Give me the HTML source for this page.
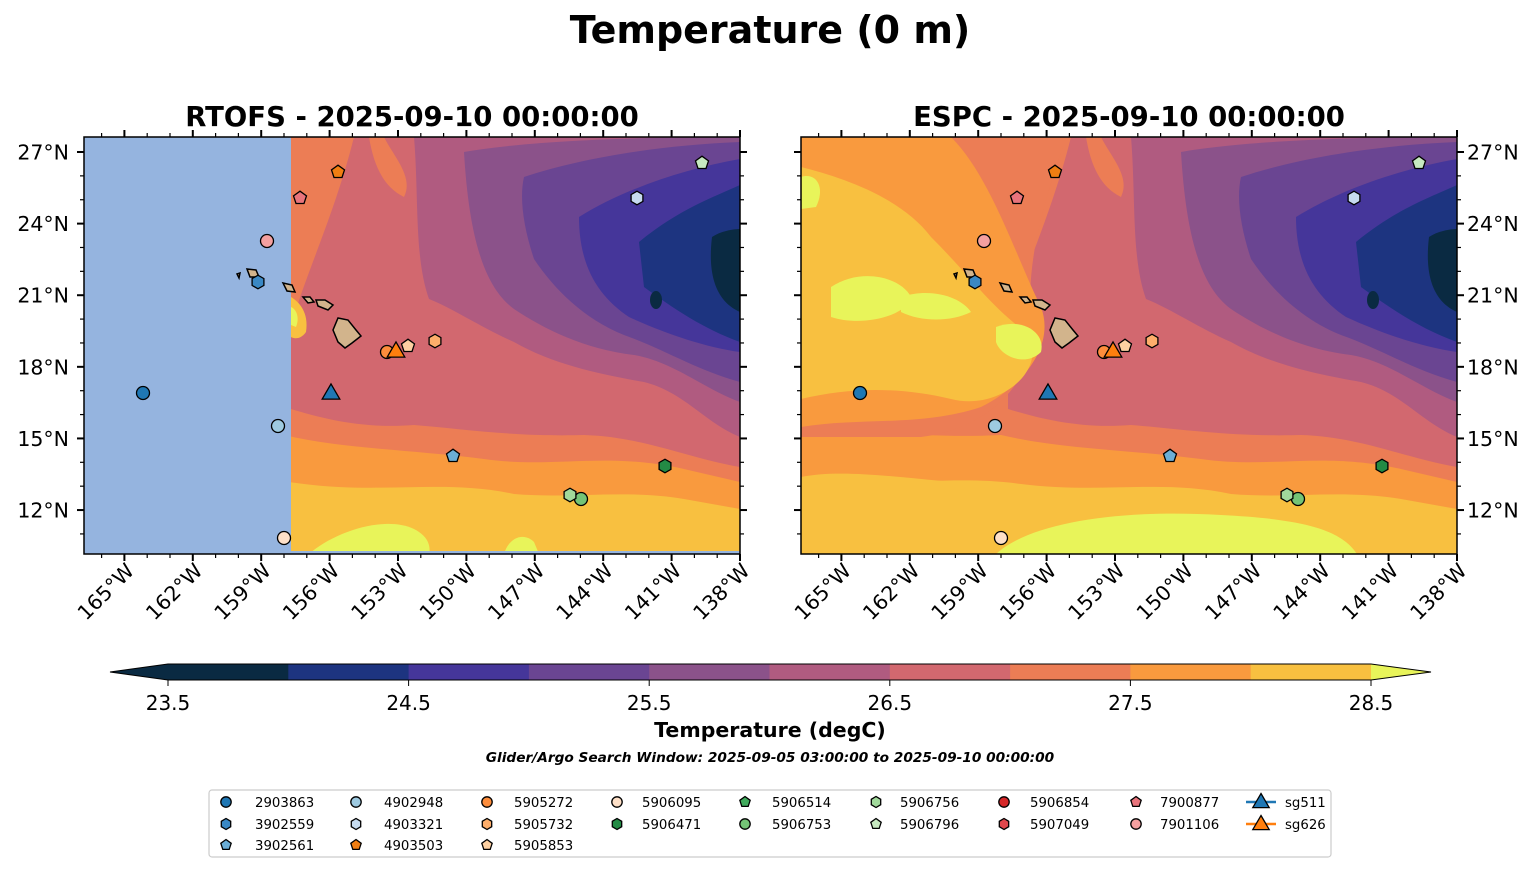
<!DOCTYPE html>
<html><head><meta charset="utf-8"><style>
body{margin:0;background:#fff}
svg text{font-family:"DejaVu Sans","Liberation Sans",sans-serif}
</style></head><body>
<svg id="s" width="1540" height="889" xmlns="http://www.w3.org/2000/svg">
<defs>
<clipPath id="cp"><rect x="0" y="0" width="656" height="417"/></clipPath>
<g id="common">
<path fill="#d2686f" d="M270,0 L656,0 L656,330 C600,320 560,300 500,298 C430,300 380,292 330,288 C280,292 240,282 207,272 L207,190 C220,140 250,80 270,0 Z"/>
<path fill="#ec7d55" d="M300,0 C310,20 330,40 320,60 C300,50 290,30 285,0 Z"/>
<path fill="#b05b80" d="M330,0 L656,0 L656,300 C620,285 600,255 560,245 C520,238 470,228 430,205 C400,192 370,172 345,162 C330,120 335,60 330,0 Z"/>
<path fill="#8b528a" d="M380,15 C420,8 500,0 656,0 L656,265 C620,252 590,225 550,218 C500,212 460,192 430,172 C400,150 385,100 380,15 Z"/>
<path fill="#6a4592" d="M440,40 C500,20 580,8 656,5 L656,245 C610,232 580,212 540,198 C500,182 470,152 450,122 C440,92 435,62 440,40 Z"/>
<path fill="#45369a" d="M495,80 C540,52 600,32 656,22 L656,215 C620,210 580,196 545,180 C515,160 495,130 495,80 Z"/>
<path fill="#1d3480" d="M555,105 C595,72 630,60 656,48 L656,205 C620,192 590,172 560,150 Z"/>
<path fill="#0a2a42" d="M628,100 C640,92 656,92 656,92 L656,175 C640,168 622,150 628,100 Z"/>
<ellipse fill="#0a2a42" cx="572" cy="163" rx="6" ry="9"/>
<path fill="#f99a3e" d="M0,285 C60,292 120,302 200,298 C260,312 320,312 400,322 C470,332 520,314 600,332 L656,345 L656,417 L0,417 Z"/>
<path fill="#f8c040" d="M0,342 C80,352 150,337 220,347 C300,357 360,342 430,357 C490,362 540,352 600,362 L656,372 L656,417 L0,417 Z"/>
<path fill="#e8f45a" d="M225,417 C250,395 300,378 330,392 C350,402 345,417 345,417 Z"/>
<path fill="#e8f45a" d="M420,417 C425,400 440,395 450,405 L455,417 Z"/>
</g>
<g id="isl" fill="#d2b48c" stroke="#000" stroke-width="1.5">
<path d="M254,181 L264,183 L272,193 L277,199 L268,206 L261,211 L254,205 L249,193 Z"/>
<path d="M232,163 L241,163 L249,168 L244,173 L234,169 Z"/>
<path d="M219,160 L226,160 L230,165 L224,166 Z"/>
<path d="M199,146 L208,148 L211,155 L203,154 Z"/>
<path d="M163,132 L172,133 L175,140 L166,140 Z"/>
<path d="M153,137 L156,136 L155,141 Z"/>
</g>
</defs>
<text x="770" y="43" text-anchor="middle" font-size="38" font-weight="bold">Temperature (0 m)</text>
<text x="412" y="126" text-anchor="middle" font-size="27.5" font-weight="bold">RTOFS - 2025-09-10 00:00:00</text>
<text x="1129" y="126" text-anchor="middle" font-size="27.5" font-weight="bold">ESPC - 2025-09-10 00:00:00</text>
<g transform="translate(84,137)" clip-path="url(#cp)">
<rect width="656" height="417" fill="#ec7d55"/>
<use href="#common"/>
<path fill="#f8c040" d="M207,160 C215,165 225,175 222,195 C215,205 207,200 207,200 Z"/>
<path fill="#e8f45a" d="M207,170 C212,172 216,180 212,190 L207,188 Z"/>
<rect x="0" y="0" width="207" height="417" fill="#95b4df"/>
<rect x="207" y="414" width="449" height="3" fill="#95b4df"/>
<use href="#isl"/>
</g>
<g transform="translate(801,137)" clip-path="url(#cp)">
<rect width="656" height="417" fill="#ec7d55"/>
<use href="#common"/>
<path fill="#ec7d55" d="M150,0 L265,0 C245,60 225,120 230,180 C240,230 200,290 120,300 L0,300 L0,0 Z"/>
<path fill="#f99a3e" d="M0,0 L150,0 C190,40 215,120 240,170 C255,210 220,250 180,270 C120,290 60,280 0,290 Z"/>
<path fill="#f8c040" d="M0,30 C40,40 100,60 130,100 C170,140 190,170 225,195 C250,230 200,275 150,262 C100,250 50,250 0,262 Z"/>
<path fill="#f8c040" d="M0,340 C50,330 120,345 200,348 L200,417 L0,417Z"/>
<path fill="#e8f45a" d="M30,150 C60,130 100,140 110,160 C105,180 60,190 30,180 Z"/>
<path fill="#e8f45a" d="M100,160 C130,150 160,160 170,175 C150,185 120,185 100,175 Z"/>
<path fill="#e8f45a" d="M195,190 C220,180 245,195 240,215 C225,230 200,220 195,205 Z"/>
<path fill="#e8f45a" d="M0,40 C15,35 25,50 15,70 L0,72 Z"/>
<path fill="#e8f45a" d="M195,417 C230,385 320,372 420,378 C500,382 540,392 556,417 Z"/>
<use href="#isl"/>
</g>
<g id="axes" fill="none" stroke="#000" stroke-width="1.5">
<rect x="84" y="137" width="656" height="417"/>
<rect x="801" y="137" width="656" height="417"/>
</g>
<g id="dyn"></g>
<rect x="209" y="790" width="1122" height="67" rx="3" fill="#fff" stroke="#ccc" stroke-width="1.2"/>
<g id="leg"></g>
<text x="770" y="737" text-anchor="middle" font-size="20.5" font-weight="bold">Temperature (degC)</text>
<text x="770" y="762" text-anchor="middle" font-size="13.7" font-weight="bold" font-style="italic">Glider/Argo Search Window: 2025-09-05 03:00:00 to 2025-09-10 00:00:00</text>
</svg>
<script>
const NS="http://www.w3.org/2000/svg";
const d=document.getElementById('dyn'),L=document.getElementById('leg');
function el(p,t,a,txt){const e=document.createElementNS(NS,t);for(const k in a)e.setAttribute(k,a[k]);if(txt!==undefined)e.textContent=txt;p.appendChild(e);return e;}
const lonX=l=>740-(l-138)*22.8, latY=la=>152+(27-la)*23.87;
[0,717].forEach((off,pi)=>{
 for(let l=138;l<=166;l++){const x=lonX(l)+off;if(x<84+off-0.5)continue;const mj=(l-138)%3==0;const len=mj?7:4;
  el(d,'line',{x1:x,x2:x,y1:137,y2:137-len,stroke:'#000','stroke-width':mj?2:1.2});
  el(d,'line',{x1:x,x2:x,y1:554,y2:554+len,stroke:'#000','stroke-width':mj?2:1.2});
  if(mj){el(d,'text',{x:x+11,y:572,'font-size':20.5,'text-anchor':'end',transform:`rotate(-45 ${x+11} 572)`},l+'°W');}}
 for(let la=11;la<=27;la++){const y=latY(la);const mj=la%3==0;const len=mj?7:4;
  el(d,'line',{x1:84+off,x2:84+off-len,y1:y,y2:y,stroke:'#000','stroke-width':mj?2:1.2});
  el(d,'line',{x1:740+off,x2:740+off+len,y1:y,y2:y,stroke:'#000','stroke-width':mj?2:1.2});
  if(mj){if(pi==0)el(d,'text',{x:69,y:y+7.5,'font-size':20.5,'text-anchor':'end'},la+'°N');
   else el(d,'text',{x:1467,y:y+7.5,'font-size':20.5},la+'°N');}}
});
function shape(p,t,x,y,c,r){r=r||6.5;
 if(t=='o')return el(p,'circle',{cx:x,cy:y,r:r,fill:c,stroke:'#000','stroke-width':1.3});
 let n=t=='h'?6:(t=='p'?5:3),a0=t=='h'?Math.PI/2:-Math.PI/2,rr=t=='^'?r*1.45:r*1.05,pts=[];
 for(let i=0;i<n;i++){const a=a0+i*2*Math.PI/n;pts.push((x+rr*Math.cos(a)).toFixed(1)+','+(y+rr*Math.sin(a)+(t=='^'?rr*0.2:0)).toFixed(1));}
 return el(p,'polygon',{points:pts.join(' '),fill:c,stroke:'#000','stroke-width':1.3});}
const M=[['o',143,393,'#1f77b4'],['h',258,282,'#3a88c4'],['p',453,456,'#6baed6'],['o',278,426,'#9ecae1'],['h',637,198,'#c6dbef'],['p',338,172,'#f07e12'],['o',387,352,'#fd8d3c'],['h',435,341,'#fdae6b'],['p',408,346,'#fdd0a2'],['o',284,538,'#fee0c8'],['h',665,466,'#238b45'],['o',581,499,'#74c476'],['h',570,495,'#a1d99b'],['p',702,163,'#c7e9c0'],['p',300,198,'#e8747c'],['o',267,241,'#f4a0a0'],['^',331,392,'#1f77b4'],['^',396,350,'#ff7f0e']];
[0,717].forEach(off=>M.forEach(m=>shape(d,m[0],m[1]+off,m[2],m[3],m[0]=='^'?7:6.5)));
const cc=['#0a2a42','#1d3480','#45369a','#6a4592','#8b528a','#b05b80','#d2686f','#ec7d55','#f99a3e','#f8c040'];
cc.forEach((c,i)=>el(d,'rect',{x:168+i*120.3,y:664,width:121,height:16,fill:c}));
el(d,'polygon',{points:'168,664 110,672 168,680',fill:'#0a2a42'});
el(d,'polygon',{points:'1371,664 1431,672 1371,680',fill:'#e8f45a'});
el(d,'polygon',{points:'168,664 110,672 168,680 1371,680 1431,672 1371,664',fill:'none',stroke:'#000','stroke-width':1});
[23.5,24.5,25.5,26.5,27.5,28.5].forEach((v,i)=>{const x=168+i*240.6;el(d,'line',{x1:x,x2:x,y1:680,y2:686,stroke:'#000'});el(d,'text',{x:x,y:710,'font-size':20,'text-anchor':'middle'},v.toFixed(1));});
const cols=[[226,255],[356,384],[487,514],[617,642],[745,772],[876,900],[1004,1030],[1136,1160]];
const LG=[[0,'o','#1f77b4','2903863',0],[0,'h','#3a88c4','3902559',1],[0,'p','#6baed6','3902561',2],
[1,'o','#9ecae1','4902948',0],[1,'h','#c6dbef','4903321',1],[1,'p','#f07e12','4903503',2],
[2,'o','#fd8d3c','5905272',0],[2,'h','#fdae6b','5905732',1],[2,'p','#fdd0a2','5905853',2],
[3,'o','#fee0c8','5906095',0],[3,'h','#238b45','5906471',1],
[4,'p','#41ab5d','5906514',0],[4,'o','#74c476','5906753',1],
[5,'h','#a1d99b','5906756',0],[5,'p','#c7e9c0','5906796',1],
[6,'o','#d62728','5906854',0],[6,'h','#e0474c','5907049',1],
[7,'p','#e8747c','7900877',0],[7,'o','#f4a0a0','7901106',1]];
const ry=[802,824,845];
LG.forEach(g=>{const y=ry[g[4]];shape(L,g[1],cols[g[0]][0],y,g[2],5.2);el(L,'text',{x:cols[g[0]][1],y:y+5,'font-size':13.3},g[3]);});
[['#1f77b4','sg511',802],['#ff7f0e','sg626',824]].forEach(g=>{el(L,'line',{x1:1246,x2:1276,y1:g[2],y2:g[2],stroke:g[0],'stroke-width':2.5});shape(L,'^',1261,g[2]-1,g[0],6.5);el(L,'text',{x:1285,y:g[2]+5,'font-size':13.3},g[1]);});
</script>
</body></html>
